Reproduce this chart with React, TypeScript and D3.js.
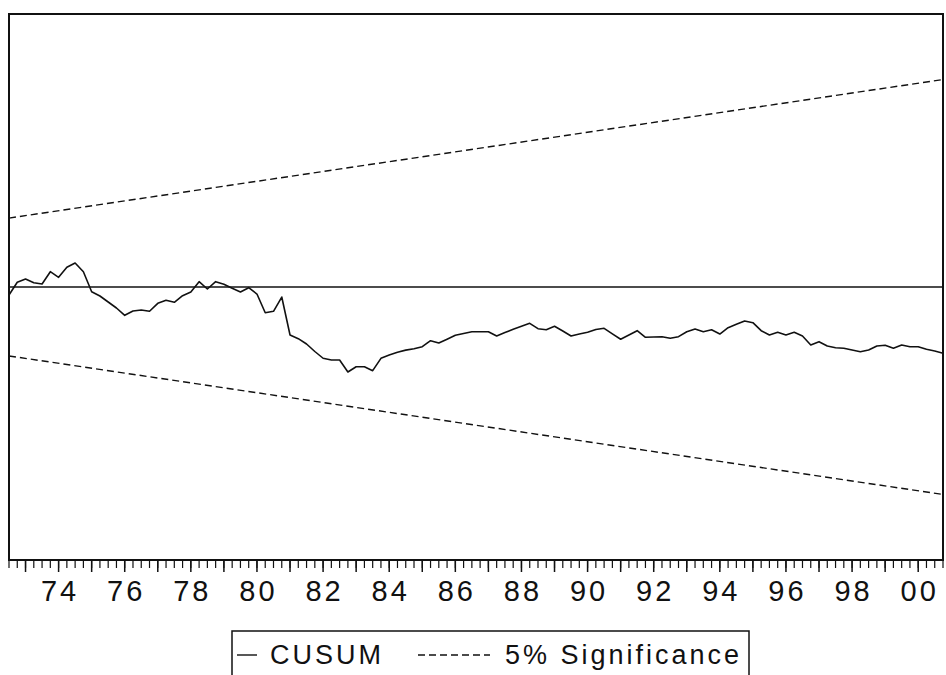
import React from "react";
import * as d3 from "d3";

// Quarterly sample: first observation 1972Q3, last 2000Q4
const firstYear = 1972;
const firstQuarter = 3;

// Recursive-residual CUSUM statistic, one value per quarter
const cusum: number[] = [
  -1.17, 0.69, 1.17, 0.63, 0.44, 2.24, 1.42, 2.89, 3.52, 2.24,
  -0.69, -1.32, -2.2, -3.08, -4.15, -3.52, -3.37, -3.56, -2.39, -1.95,
  -2.24, -1.27, -0.73, 0.78, -0.29, 0.78, 0.4, -0.19, -0.73, -0.1,
  -1.03, -3.77, -3.56, -1.47, -7.03, -7.57, -8.35, -9.45, -10.44, -10.7,
  -10.7, -12.45, -11.68, -11.68, -12.26, -10.45, -9.96, -9.55, -9.25, -9.05,
  -8.75, -7.87, -8.21, -7.65, -7.08, -6.81, -6.55, -6.55, -6.55, -7.18,
  -6.68, -6.2, -5.76, -5.32, -6.11, -6.26, -5.76, -6.45, -7.18, -6.89,
  -6.64, -6.23, -6.05, -6.86, -7.66, -7.03, -6.4, -7.37, -7.33, -7.28,
  -7.52, -7.28, -6.55, -6.15, -6.55, -6.26, -6.89, -5.96, -5.47, -4.98,
  -5.23, -6.4, -7.03, -6.64, -7.03, -6.64, -7.18, -8.5, -8.01, -8.64,
  -8.89, -8.98, -9.23, -9.48, -9.23, -8.64, -8.54, -8.98, -8.5, -8.75,
  -8.75, -9.13, -9.38, -9.71,
];

// 5% significance bounds at the first and last observation
const upperBound: number[] = [10.1, 30.4];
const lowerBound: number[] = [-10.1, -30.4];

// Axis settings
const yDomain: [number, number] = [-40, 40];
const yearTicks: number[] = d3.range(1973, 2001);
const labelYears: number[] = [1974, 1976, 1978, 1980, 1982, 1984, 1986, 1988, 1990, 1992, 1994, 1996, 1998, 2000];

const legendLabels = { cusum: "CUSUM", bounds: "5% Significance" };

const W = 946;
const H = 675;
const plot = { left: 9, right: 943, top: 14, bottom: 560 };
const font = "'Liberation Sans', Arial, Helvetica, sans-serif";

export default function App() {
  const t0 = firstYear + (firstQuarter - 1) / 4;
  const times = cusum.map((_, i) => t0 + i / 4);
  const tEnd = times[times.length - 1];

  const x = d3.scaleLinear().domain([t0, tEnd]).range([plot.left, plot.right]);
  const y = d3.scaleLinear().domain(yDomain).range([plot.bottom, plot.top]);

  const line = d3
    .line<[number, number]>()
    .x((d) => x(d[0]))
    .y((d) => y(d[1]));

  const cusumPath = line(times.map((t, i) => [t, cusum[i]] as [number, number])) || "";
  const upperPath = line([[t0, upperBound[0]], [tEnd, upperBound[1]]]) || "";
  const lowerPath = line([[t0, lowerBound[0]], [tEnd, lowerBound[1]]]) || "";

  const minorTicks = d3.range(0, cusum.length).map((i) => t0 + i / 4);

  return (
    <svg
      width={W}
      height={H}
      viewBox={`0 0 ${W} ${H}`}
      style={{ position: "absolute", left: 0, top: 0, background: "#fff" }}
    >
      <rect x={0} y={0} width={W} height={H} fill="#fff" />

      {/* zero reference */}
      <line x1={plot.left} x2={plot.right} y1={y(0)} y2={y(0)} stroke="#111" strokeWidth={1.4} />

      {/* significance bounds */}
      <path d={upperPath} fill="none" stroke="#111" strokeWidth={1.4} strokeDasharray="7,4" />
      <path d={lowerPath} fill="none" stroke="#111" strokeWidth={1.4} strokeDasharray="7,4" />

      {/* CUSUM */}
      <path d={cusumPath} fill="none" stroke="#111" strokeWidth={1.6} strokeLinejoin="round" />

      {/* frame */}
      <rect
        x={plot.left}
        y={plot.top}
        width={plot.right - plot.left}
        height={plot.bottom - plot.top}
        fill="none"
        stroke="#111"
        strokeWidth={2}
      />

      {/* quarterly ticks */}
      {minorTicks.map((t, i) => (
        <line key={`m${i}`} x1={x(t)} x2={x(t)} y1={plot.bottom} y2={plot.bottom + 8} stroke="#111" strokeWidth={1.2} />
      ))}
      {/* yearly ticks */}
      {yearTicks.map((yr) => (
        <line key={`y${yr}`} x1={x(yr)} x2={x(yr)} y1={plot.bottom} y2={plot.bottom + 12} stroke="#111" strokeWidth={1.5} />
      ))}
      {labelYears.map((yr) => (
        <text
          key={`l${yr}`}
          x={x(yr) + 1.5}
          y={601}
          textAnchor="middle"
          fontFamily={font}
          fontSize={29}
          letterSpacing={3}
          fill="#111"
        >
          {String(yr % 100).padStart(2, "0")}
        </text>
      ))}

      {/* legend */}
      <rect x={232} y={631} width={517} height={60} fill="none" stroke="#111" strokeWidth={1.5} />
      <line x1={237} x2={257} y1={655} y2={655} stroke="#111" strokeWidth={1.4} />
      <text x={270} y={664} fontFamily={font} fontSize={27} letterSpacing={3} fill="#111">
        {legendLabels.cusum}
      </text>
      <line x1={418} x2={490} y1={655} y2={655} stroke="#111" strokeWidth={1.4} strokeDasharray="7,4" />
      <text x={505} y={664} fontFamily={font} fontSize={27} letterSpacing={3} fill="#111">
        {legendLabels.bounds}
      </text>
    </svg>
  );
}
